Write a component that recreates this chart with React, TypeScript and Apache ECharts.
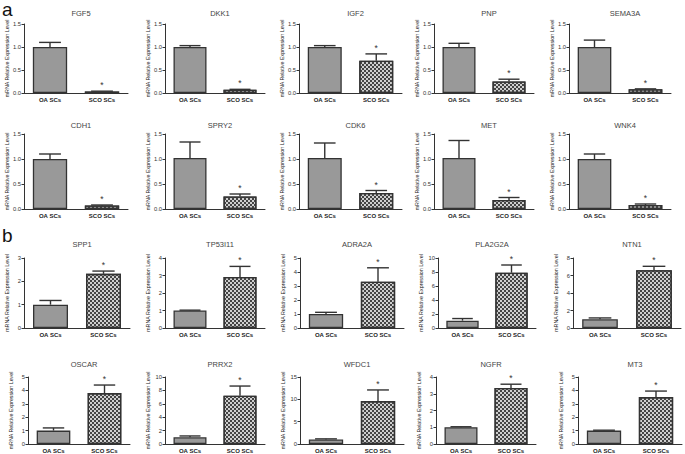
import React, { useEffect, useRef } from 'react';
import * as echarts from 'echarts';

const genes = ['FGF5', 'DKK1', 'IGF2', 'PNP', 'SEMA3A', 'CDH1', 'SPRY2', 'CDK6', 'MET', 'WNK4',
  'SPP1', 'TP53I11', 'ADRA2A', 'PLA2G2A', 'NTN1', 'OSCAR', 'PRRX2', 'WFDC1', 'NGFR', 'MT3'];
const groups = ['OA SCs', 'SCO SCs'];
const oaMean = [1.0, 1.0, 1.0, 1.0, 1.0, 1.0, 1.02, 1.02, 1.02, 1.0,
  1.0, 1.0, 1.0, 1.05, 1.0, 1.0, 1.0, 1.0, 1.0, 1.0];
const oaErr = [0.1, 0.03, 0.03, 0.08, 0.15, 0.1, 0.32, 0.3, 0.35, 0.1,
  0.18, 0.02, 0.12, 0.3, 0.15, 0.2, 0.2, 0.15, 0.03, 0.03];
const scoMean = [0.03, 0.07, 0.7, 0.25, 0.08, 0.07, 0.25, 0.32, 0.18, 0.08,
  2.32, 2.92, 3.3, 7.9, 6.6, 3.8, 7.2, 9.6, 3.35, 3.5];
const scoErr = [0.01, 0.01, 0.15, 0.05, 0.01, 0.01, 0.05, 0.05, 0.05, 0.02,
  0.12, 0.6, 1.0, 1.1, 0.45, 0.6, 1.45, 2.5, 0.22, 0.45];
const yMax = [1.5, 1.5, 1.5, 1.5, 1.5, 1.5, 1.5, 1.5, 1.5, 1.5,
  3, 4, 5, 10, 8, 5, 10, 15, 4, 5];
const yStep = [0.5, 0.5, 0.5, 0.5, 0.5, 0.5, 0.5, 0.5, 0.5, 0.5,
  1, 1, 1, 2, 2, 1, 2, 5, 1, 1];
const panelLetters = ['a', 'b'];
const yName = 'mRNA Relative Expression Level';

// layout (pixels)
const rowTop = [24, 134, 258, 377];
const rowBottom = [93, 209, 328, 445];
const titleTop = [4, 116, 235, 355];
const letterTop = [0, 226];
const panelLeft = [24, 165, 299, 434, 569, 24, 165, 299, 434, 569,
  24, 165, 300, 438, 573, 28, 165, 300, 436, 578];
const panelWidth = [104, 100, 103, 100, 102, 104, 100, 103, 100, 102,
  106, 100, 104, 98, 108, 102, 100, 104, 100, 104];

const FONT = 'Liberation Sans, Arial, sans-serif';

export default function App() {
  const ref = useRef<HTMLDivElement>(null);
  useEffect(() => {
    if (!ref.current) return;
    const chart = echarts.init(ref.current, null, { renderer: 'svg' });
    const grid: any[] = [];
    const xAxis: any[] = [];
    const yAxis: any[] = [];
    const series: any[] = [];
    const title: any[] = [];
    genes.forEach((g, i) => {
      const row = Math.floor(i / 5);
      const left = panelLeft[i];
      const width = panelWidth[i];
      grid.push({ left, top: rowTop[row], width, height: rowBottom[row] - rowTop[row], containLabel: false });
      title.push({
        text: g, left: left + width / 2, top: titleTop[row], textAlign: 'center',
        textStyle: { fontSize: 7.5, fontWeight: 'normal', color: '#444', fontFamily: FONT },
      });
      xAxis.push({
        type: 'category', gridIndex: i, data: groups,
        axisLine: { lineStyle: { color: '#333', width: 1 } },
        axisTick: { alignWithLabel: true, length: 2, lineStyle: { color: '#333' } },
        axisLabel: { fontSize: 6, color: '#222', fontWeight: 'bold', margin: 4, fontFamily: FONT },
      });
      const step = yStep[i];
      yAxis.push({
        type: 'value', gridIndex: i, min: 0, max: yMax[i], interval: step,
        name: yName, nameLocation: 'middle', nameGap: 15,
        nameTextStyle: { fontSize: 5.3, color: '#222', fontFamily: FONT },
        axisLine: { show: true, lineStyle: { color: '#333', width: 1 } },
        axisTick: { show: true, length: 2.5, lineStyle: { color: '#333' } },
        splitLine: { show: false },
        axisLabel: {
          fontSize: 5.8, color: '#333', margin: 3, fontFamily: FONT,
          formatter: (v: number) => (step < 1 ? v.toFixed(1) : String(v)),
        },
      });
      series.push({
        type: 'bar', xAxisIndex: i, yAxisIndex: i, barWidth: '66%',
        data: [
          { value: oaMean[i], itemStyle: { color: '#999', borderColor: '#333', borderWidth: 1.3 } },
          {
            value: scoMean[i],
            itemStyle: {
              color: '#cfcfcf', borderColor: '#333', borderWidth: 1.3,
              decal: {
                symbol: 'rect', symbolSize: 1, color: '#444',
                dashArrayX: [[2, 2], [0, 2, 2, 0]], dashArrayY: [2, 0], rotation: 0,
              },
            },
          },
        ],
      });
      series.push({
        type: 'custom', xAxisIndex: i, yAxisIndex: i, z: 5,
        encode: { x: 0, y: 1 },
        data: [[0, oaMean[i], oaErr[i], 0], [1, scoMean[i], scoErr[i], 1]],
        renderItem: (params: any, api: any) => {
          const c = api.value(0), m = api.value(1), e = api.value(2), star = api.value(3);
          const base = api.coord([c, m]);
          const top = api.coord([c, m + e]);
          const band = api.size([1, 0])[0];
          const half = band * 0.21;
          const children: any[] = [
            { type: 'line', shape: { x1: base[0], y1: base[1], x2: top[0], y2: top[1] }, style: { stroke: '#333', lineWidth: 1.4 } },
            { type: 'line', shape: { x1: top[0] - half, y1: top[1], x2: top[0] + half, y2: top[1] }, style: { stroke: '#333', lineWidth: 1.4 } },
          ];
          if (star) {
            children.push({
              type: 'text', x: top[0], y: top[1] - 6,
              style: { text: '*', fill: '#333', fontSize: 8.5, align: 'center', verticalAlign: 'middle', fontFamily: FONT },
            });
          }
          return { type: 'group', children };
        },
      });
    });
    chart.setOption({
      animation: false,
      backgroundColor: '#fff',
      title,
      grid,
      xAxis,
      yAxis,
      series,
      graphic: panelLetters.map((t, k) => ({
        type: 'text', left: 2, top: letterTop[k],
        style: { text: t, fontSize: 19, fill: '#111', fontFamily: FONT },
      })),
    });
    return () => chart.dispose();
  }, []);
  return <div ref={ref} style={{ position: 'fixed', left: 0, top: 0, width: 685, height: 454, background: '#fff' }} />;
}
